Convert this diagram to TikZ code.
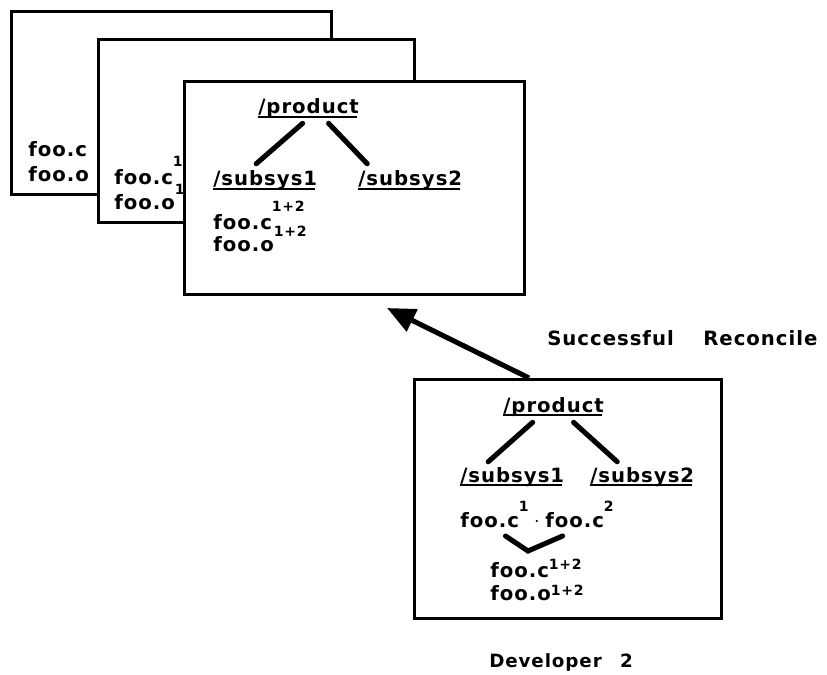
\documentclass[tikz,border=0pt]{standalone}
\usepackage{fontspec}
\setmainfont{DejaVu Sans}[LetterSpace=5]
\usetikzlibrary{arrows.meta}
\newcommand{\supx}[2]{\raisebox{#1}{\fontsize{10}{10}\selectfont #2}}
\tikzset{
    frame/.style={draw,fill=white,line width=2.2pt,anchor=north west,inner sep=0pt},
    word/.style={anchor=base west,inner sep=0pt,font=\fontsize{14}{16}\selectfont\bfseries},
    tree/.style={line width=3.6pt,line cap=round},
    uline/.style={line width=1.2pt}
}

\begin{document}
\begin{tikzpicture}[x=0.025cm,y=-0.025cm]
            \useasboundingbox (0,0) rectangle (827,675);
            % stacked versions
            \node[frame,minimum width=320*0.025cm,minimum height=183*0.025cm] (f1) at (10,10) {};
            \node[word] (c1) at (28,157) {foo.c};
            \node[word] (o1) at (28,182) {foo.o};
            \node[frame,minimum width=316*0.025cm,minimum height=183*0.025cm] (f2) at (97,38) {};
            \node[word] (c2) at (114,185) {foo.c\supx{12.8pt}{1}};
            \node[word] (o2) at (114,210) {foo.o\supx{10.7pt}{1}};
            \node[frame,minimum width=340*0.025cm,minimum height=213*0.025cm] (f3) at (183,80) {};
            \node[word] (p3) at (258,114) {/product};
            \node[word] (a3) at (213,186) {/subsys1};
            \node[word] (b3) at (358,186) {/subsys2};
            \node[word] (c3) at (213,230) {foo.c\supx{12.8pt}{1+2}};
            \node[word] (o3) at (213,252) {foo.o\supx{10.7pt}{1+2}};
            \draw[tree] ([shift={(-6,5)}]p3.south) -- ([shift={(-9,-7)}]a3.north);
            \draw[tree] ([shift={(20,5)}]p3.south) -- ([shift={(-43,-7)}]b3.north);
            % developer 2 workspace
            \node[frame,minimum width=307*0.025cm,minimum height=239*0.025cm] (f4) at (413,378) {};
            \node[word] (p4) at (503,412) {/product};
            \node[word] (a4) at (460,482) {/subsys1};
            \node[word] (b4) at (590,482) {/subsys2};
            \node[word] (d1) at (460,527) {foo.c\supx{10.7pt}{1}};
            \node[word,anchor=center] (dot) at (537,522) {$\cdot$};
            \node[word] (d2) at (545,527) {foo.c\supx{10.7pt}{2}};
            \node[word] (c4) at (490,577) {foo.c\supx{5pt}{1+2}};
            \node[word] (o4) at (490,600) {foo.o\supx{3pt}{1+2}};
            \draw[tree] ([shift={(-21,6)}]p4.south) -- ([shift={(-24,-5)}]a4.north);
            \draw[tree] ([shift={(20,6)}]p4.south) -- ([shift={(-25,-5)}]b4.north);
            \coordinate (vee) at (528,551);
            \draw[tree] ([shift={(11,9)}]d1.base) -- (vee) -- ([shift={(-17,9)}]d2.base);
            \foreach \n in {p3,a3,b3,p4,a4,b4}{
                \draw[uline] ([shift={(0,3)}]\n.base west) -- ([shift={(-2,3)}]\n.base east);
            }
            % reconcile arrow
            \coordinate (tip) at (387,308);
            \draw[line width=3.6pt,-{Triangle[length=20pt,width=17pt]}] ([shift={(-39,0)}]f4.north) -- (tip);
            \node[word] (rec) at (547,345) {Successful\hspace{1.5em}Reconcile};
            \node[word,font=\fontsize{13}{15}\selectfont\bfseries] (dev) at (489,667) {Developer\hspace{1em}2};
        \end{tikzpicture}
\end{document}
